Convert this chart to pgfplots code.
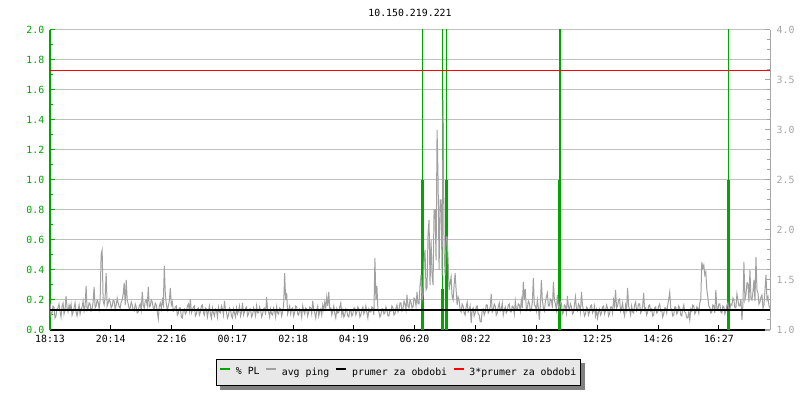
\documentclass[border=0pt]{standalone}
\usepackage{fontspec}
\setmainfont{DejaVu Sans Mono}
\setmonofont{DejaVu Sans Mono}
\usepackage{pgfplots}
\usepackage{pgfplotstable}
\pgfplotsset{compat=1.18}
\pgfdeclarelayer{background}
\pgfsetlayers{background,main}
\definecolor{plgreen}{RGB}{0,165,0}
\definecolor{pinggray}{RGB}{160,160,160}
\definecolor{gridgray}{RGB}{192,192,192}
\definecolor{rgray}{RGB}{165,165,165}
\newcommand{\fs}{\fontsize{7.4pt}{9pt}\selectfont}
\pgfplotstableread[row sep=\\]{
v\\
1.26\\ 1.15\\ 1.17\\ 1.24\\ 1.23\\ 1.12\\ 1.14\\ 1.21\\ 1.22\\ 1.26\\ 1.19\\ 1.13\\ 1.24\\ 1.27\\ 1.16\\ 1.20\\ 1.34\\ 1.22\\ 1.18\\ 1.25\\
1.21\\ 1.26\\ 1.15\\ 1.18\\ 1.22\\ 1.27\\ 1.18\\ 1.14\\ 1.20\\ 1.25\\ 1.16\\ 1.21\\ 1.23\\ 1.29\\ 1.19\\ 1.24\\ 1.44\\ 1.20\\ 1.22\\ 1.27\\
1.26\\ 1.19\\ 1.21\\ 1.28\\ 1.43\\ 1.22\\ 1.24\\ 1.30\\ 1.28\\ 1.21\\ 1.30\\ 1.76\\ 1.80\\ 1.29\\ 1.25\\ 1.33\\ 1.57\\ 1.24\\ 1.27\\ 1.31\\
1.28\\ 1.22\\ 1.24\\ 1.30\\ 1.29\\ 1.21\\ 1.25\\ 1.32\\ 1.27\\ 1.23\\ 1.22\\ 1.28\\ 1.30\\ 1.36\\ 1.47\\ 1.25\\ 1.50\\ 1.30\\ 1.26\\ 1.21\\
1.22\\ 1.28\\ 1.25\\ 1.20\\ 1.19\\ 1.26\\ 1.23\\ 1.17\\ 1.18\\ 1.24\\ 1.26\\ 1.20\\ 1.38\\ 1.25\\ 1.22\\ 1.29\\ 1.30\\ 1.24\\ 1.43\\ 1.23\\
1.24\\ 1.30\\ 1.28\\ 1.22\\ 1.21\\ 1.27\\ 1.25\\ 1.18\\ 1.11\\ 1.24\\ 1.27\\ 1.21\\ 1.30\\ 1.25\\ 1.64\\ 1.36\\ 1.26\\ 1.20\\ 1.24\\ 1.29\\
1.42\\ 1.25\\ 1.28\\ 1.19\\ 1.20\\ 1.23\\ 1.24\\ 1.15\\ 1.17\\ 1.22\\ 1.22\\ 1.13\\ 1.12\\ 1.20\\ 1.21\\ 1.16\\ 1.18\\ 1.24\\ 1.26\\ 1.19\\
1.31\\ 1.17\\ 1.20\\ 1.23\\ 1.24\\ 1.14\\ 1.16\\ 1.21\\ 1.22\\ 1.15\\ 1.18\\ 1.24\\ 1.25\\ 1.17\\ 1.15\\ 1.22\\ 1.21\\ 1.13\\ 1.19\\ 1.24\\
1.16\\ 1.12\\ 1.22\\ 1.17\\ 1.14\\ 1.21\\ 1.20\\ 1.13\\ 1.23\\ 1.18\\ 1.17\\ 1.24\\ 1.21\\ 1.15\\ 1.29\\ 1.20\\ 1.18\\ 1.12\\ 1.15\\ 1.22\\
1.20\\ 1.14\\ 1.12\\ 1.21\\ 1.17\\ 1.13\\ 1.22\\ 1.16\\ 1.19\\ 1.24\\ 1.14\\ 1.18\\ 1.27\\ 1.15\\ 1.18\\ 1.22\\ 1.23\\ 1.14\\ 1.16\\ 1.21\\
1.21\\ 1.13\\ 1.15\\ 1.22\\ 1.19\\ 1.14\\ 1.24\\ 1.17\\ 1.17\\ 1.23\\ 1.20\\ 1.13\\ 1.16\\ 1.21\\ 1.22\\ 1.15\\ 1.33\\ 1.20\\ 1.18\\ 1.13\\
1.21\\ 1.16\\ 1.15\\ 1.22\\ 1.19\\ 1.13\\ 1.23\\ 1.17\\ 1.16\\ 1.22\\ 1.21\\ 1.14\\ 1.18\\ 1.24\\ 1.57\\ 1.30\\ 1.37\\ 1.16\\ 1.20\\ 1.24\\
1.16\\ 1.21\\ 1.22\\ 1.14\\ 1.18\\ 1.24\\ 1.23\\ 1.16\\ 1.15\\ 1.21\\ 1.20\\ 1.13\\ 1.24\\ 1.19\\ 1.16\\ 1.22\\ 1.21\\ 1.14\\ 1.18\\ 1.23\\
1.22\\ 1.16\\ 1.29\\ 1.20\\ 1.17\\ 1.12\\ 1.20\\ 1.24\\ 1.14\\ 1.19\\ 1.21\\ 1.15\\ 1.25\\ 1.20\\ 1.28\\ 1.22\\ 1.33\\ 1.24\\ 1.38\\ 1.21\\
1.22\\ 1.15\\ 1.19\\ 1.24\\ 1.16\\ 1.12\\ 1.21\\ 1.17\\ 1.18\\ 1.23\\ 1.27\\ 1.15\\ 1.20\\ 1.13\\ 1.15\\ 1.21\\ 1.19\\ 1.14\\ 1.13\\ 1.20\\
1.20\\ 1.14\\ 1.16\\ 1.22\\ 1.22\\ 1.15\\ 1.18\\ 1.23\\ 1.21\\ 1.13\\ 1.15\\ 1.20\\ 1.23\\ 1.16\\ 1.19\\ 1.24\\ 1.17\\ 1.12\\ 1.21\\ 1.18\\
1.18\\ 1.23\\ 1.22\\ 1.15\\ 1.72\\ 1.30\\ 1.44\\ 1.20\\ 1.18\\ 1.13\\ 1.15\\ 1.21\\ 1.21\\ 1.16\\ 1.17\\ 1.23\\ 1.20\\ 1.14\\ 1.14\\ 1.20\\
1.19\\ 1.24\\ 1.22\\ 1.15\\ 1.16\\ 1.22\\ 1.25\\ 1.18\\ 1.20\\ 1.27\\ 1.27\\ 1.19\\ 1.21\\ 1.29\\ 1.26\\ 1.20\\ 1.35\\ 1.24\\ 1.22\\ 1.30\\
1.28\\ 1.22\\ 1.23\\ 1.32\\ 1.31\\ 1.24\\ 1.38\\ 1.26\\ 1.26\\ 1.45\\ 1.55\\ 1.30\\ 1.35\\ 1.70\\ 1.80\\ 1.40\\ 1.42\\ 1.97\\ 2.10\\ 1.45\\
1.90\\ 1.55\\ 1.45\\ 2.20\\ 2.20\\ 1.70\\ 3.00\\ 2.50\\ 1.60\\ 2.30\\ 2.30\\ 1.55\\ 3.30\\ 1.80\\ 1.55\\ 1.93\\ 1.93\\ 1.70\\ 1.40\\ 1.47\\
1.53\\ 1.33\\ 1.30\\ 1.45\\ 1.57\\ 1.40\\ 1.25\\ 1.33\\ 1.30\\ 1.20\\ 1.18\\ 1.26\\ 1.24\\ 1.17\\ 1.15\\ 1.23\\ 1.28\\ 1.18\\ 1.20\\ 1.24\\
1.07\\ 1.20\\ 1.22\\ 1.14\\ 1.17\\ 1.23\\ 1.24\\ 1.16\\ 1.15\\ 1.08\\ 1.08\\ 1.20\\ 1.21\\ 1.15\\ 1.18\\ 1.25\\ 1.25\\ 1.17\\ 1.19\\ 1.23\\
1.36\\ 1.18\\ 1.20\\ 1.26\\ 1.24\\ 1.15\\ 1.17\\ 1.23\\ 1.27\\ 1.19\\ 1.21\\ 1.27\\ 1.15\\ 1.20\\ 1.23\\ 1.17\\ 1.19\\ 1.25\\ 1.26\\ 1.18\\
1.18\\ 1.24\\ 1.23\\ 1.16\\ 1.29\\ 1.21\\ 1.20\\ 1.26\\ 1.25\\ 1.19\\ 1.30\\ 1.22\\ 1.48\\ 1.30\\ 1.41\\ 1.20\\ 1.22\\ 1.29\\ 1.27\\ 1.19\\
1.20\\ 1.28\\ 1.52\\ 1.25\\ 1.24\\ 1.19\\ 1.30\\ 1.22\\ 1.10\\ 1.25\\ 1.50\\ 1.30\\ 1.22\\ 1.19\\ 1.28\\ 1.33\\ 1.37\\ 1.24\\ 1.24\\ 1.31\\
1.30\\ 1.22\\ 1.48\\ 1.30\\ 1.26\\ 1.20\\ 1.35\\ 1.24\\ 1.21\\ 1.28\\ 1.27\\ 1.16\\ 1.18\\ 1.25\\ 1.24\\ 1.17\\ 1.34\\ 1.23\\ 1.20\\ 1.26\\
1.23\\ 1.16\\ 1.17\\ 1.25\\ 1.33\\ 1.21\\ 1.19\\ 1.26\\ 1.24\\ 1.18\\ 1.38\\ 1.25\\ 1.20\\ 1.14\\ 1.16\\ 1.23\\ 1.22\\ 1.15\\ 1.18\\ 1.24\\
1.25\\ 1.17\\ 1.19\\ 1.24\\ 1.14\\ 1.20\\ 1.12\\ 1.18\\ 1.21\\ 1.15\\ 1.17\\ 1.23\\ 1.24\\ 1.16\\ 1.19\\ 1.25\\ 1.22\\ 1.14\\ 1.16\\ 1.23\\
1.23\\ 1.17\\ 1.30\\ 1.24\\ 1.40\\ 1.22\\ 1.24\\ 1.30\\ 1.31\\ 1.19\\ 1.22\\ 1.27\\ 1.18\\ 1.14\\ 1.25\\ 1.20\\ 1.42\\ 1.24\\ 1.20\\ 1.15\\
1.24\\ 1.18\\ 1.17\\ 1.25\\ 1.28\\ 1.19\\ 1.21\\ 1.26\\ 1.26\\ 1.17\\ 1.19\\ 1.24\\ 1.37\\ 1.20\\ 1.22\\ 1.15\\ 1.18\\ 1.24\\ 1.25\\ 1.19\\
1.21\\ 1.14\\ 1.15\\ 1.22\\ 1.23\\ 1.17\\ 1.18\\ 1.24\\ 1.26\\ 1.19\\ 1.20\\ 1.13\\ 1.16\\ 1.22\\ 1.22\\ 1.17\\ 1.25\\ 1.31\\ 1.38\\ 1.22\\
1.20\\ 1.14\\ 1.15\\ 1.23\\ 1.23\\ 1.16\\ 1.18\\ 1.24\\ 1.22\\ 1.15\\ 1.14\\ 1.21\\ 1.25\\ 1.18\\ 1.17\\ 1.12\\ 1.12\\ 1.18\\ 1.10\\ 1.21\\
1.19\\ 1.25\\ 1.24\\ 1.16\\ 1.18\\ 1.23\\ 1.22\\ 1.17\\ 1.27\\ 1.31\\ 1.68\\ 1.62\\ 1.65\\ 1.55\\ 1.58\\ 1.40\\ 1.33\\ 1.24\\ 1.22\\ 1.17\\
1.18\\ 1.25\\ 1.24\\ 1.17\\ 1.40\\ 1.22\\ 1.20\\ 1.26\\ 1.26\\ 1.18\\ 1.17\\ 1.24\\ 1.23\\ 1.16\\ 1.19\\ 1.25\\ 1.27\\ 1.20\\ 1.21\\ 1.26\\
1.25\\ 1.32\\ 1.30\\ 1.22\\ 1.22\\ 1.36\\ 1.30\\ 1.24\\ 1.24\\ 1.31\\ 1.10\\ 1.25\\ 1.68\\ 1.30\\ 1.35\\ 1.47\\ 1.47\\ 1.28\\ 1.60\\ 1.32\\
1.30\\ 1.38\\ 1.50\\ 1.29\\ 1.73\\ 1.40\\ 1.37\\ 1.26\\ 1.28\\ 1.33\\ 1.35\\ 1.22\\ 1.25\\ 1.40\\ 1.55\\ 1.30\\ 1.33\\ 1.24\\ 1.22\\ 1.20\\
}\pingtable
\begin{document}
\begin{tikzpicture}
\path[use as bounding box] (0,0) rectangle (600pt,300pt);
\begin{axis}[
  at={(37.5pt,52.5pt)}, anchor=south west,
  scale only axis, width=540pt, height=225pt,
  xmin=0, xmax=1436, ymin=0, ymax=2,
  axis x line*=bottom, axis y line*=left,
  x axis line style={black, -, line width=0.75pt},
  y axis line style={plgreen, -, line width=0.75pt},
  tick align=inside,
  xtick={0,121,243,364,485,606,727,849,970,1092,1213,1334},
  xticklabels={18:13,20:14,22:16,00:17,02:18,04:19,06:20,08:22,10:23,12:25,14:26,16:27},
  ytick={0,0.2,0.4,0.6,0.8,1.0,1.2,1.4,1.6,1.8,2.0},
  minor y tick num=1,
  ymajorgrids, major grid style={gridgray, line width=0.75pt},
  major tick length=4pt, minor tick length=2.5pt,
  every tick/.style={line width=0.75pt},
  x tick style={black}, y tick style={plgreen},
  yticklabel style={text=plgreen, font=\fs, xshift=-0.75pt},
  xticklabel style={text=black, font=\fs},
  /pgf/number format/assume math mode=true,
  yticklabel={\pgfmathprintnumber[fixed,fixed zerofill,precision=1]{\tick}},
  title={10.150.219.221}, title style={font=\fs, anchor=base, yshift=3.75pt},
]
\addplot[ycomb, plgreen, line width=0.9pt, no marks] coordinates {(743,2.5) (783,2.5) (791,2.5) (1017,2.5) (1353,2.5)};
\addplot[ycomb, plgreen, line width=2.25pt, no marks] coordinates {(743,1) (783,0.27) (791,1) (1017,1) (1353,1)};
\end{axis}
\begin{axis}[
  at={(37.5pt,52.5pt)}, anchor=south west,
  scale only axis, width=540pt, height=225pt,
  xmin=0, xmax=1436, ymin=1, ymax=4,
  axis y line*=right, axis x line=none,
  y axis line style={rgray, -, line width=0.75pt},
  tick align=inside,
  ytick={1,1.5,2,2.5,3,3.5,4},
  minor y tick num=4,
  major tick length=4pt, minor tick length=2.5pt,
  every tick/.style={line width=0.75pt},
  y tick style={rgray},
  yticklabel style={text=rgray, font=\fs, xshift=1.5pt},
  /pgf/number format/assume math mode=true,
  yticklabel={\pgfmathprintnumber[fixed,fixed zerofill,precision=1]{\tick}},
  legend columns=4,
  legend style={name=lgd, at={(0.4847,-0.0967)}, anchor=north, draw=black, line width=0.75pt,
    fill=black!9, font=\fs, inner xsep=1.5pt, inner ysep=4pt,
    /tikz/every even column/.append style={column sep=2pt}},
  legend image code/.code={\draw[#1, line width=1.6pt] (0pt,2.6pt) -- (7.5pt,2.6pt); \path (9.5pt,2.6pt);},
]
\addlegendimage{plgreen}
\addlegendentry{\% PL}
\addplot[pinggray, line width=0.75pt, no marks] table[x expr=\coordindex*2, y=v] {\pingtable};
\addlegendentry{avg ping}
\addplot[black, line width=1.5pt, no marks] coordinates {(0,1.197) (1436,1.197)};
\addlegendentry{prumer za obdobi}
\addplot[red, line width=0.75pt, no marks] coordinates {(0,3.591) (1436,3.591)};
\addlegendentry{3*prumer za obdobi}
\end{axis}
\begin{pgfonlayer}{background}
\fill[black!50] ([xshift=3pt,yshift=-3pt]lgd.south west) rectangle ([xshift=3pt,yshift=-3pt]lgd.north east);
\end{pgfonlayer}
\end{tikzpicture}
\end{document}
